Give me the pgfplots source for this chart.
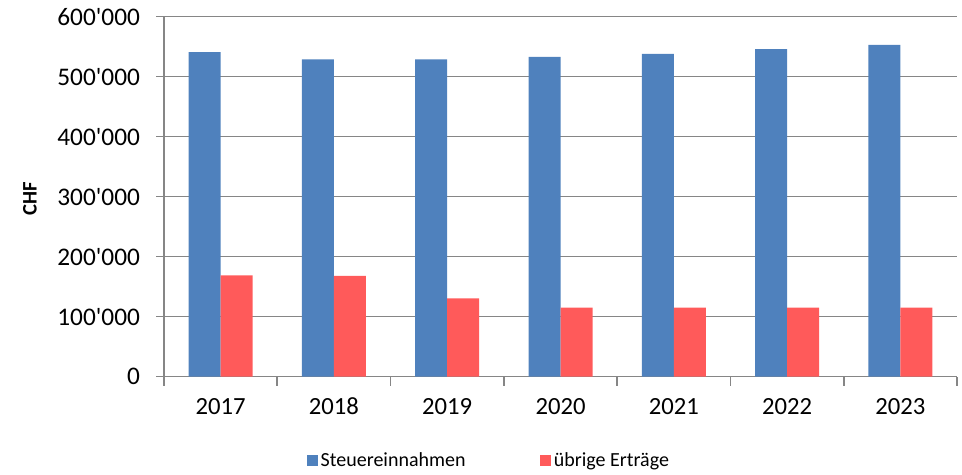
\documentclass[border=0pt]{standalone}
\usepackage{pgfplots}
\pgfplotsset{compat=1.18}
\usepackage{fontspec}
\setmainfont{Carlito}[Ligatures=TeXOff]
\definecolor{sblue}{HTML}{4F81BD}
\definecolor{sred}{HTML}{FF5A5A}
\definecolor{gridgray}{HTML}{868686}
\begin{document}
\begin{tikzpicture}
\path[use as bounding box] (-123pt,-73pt) rectangle (598.5pt,282.5pt);
\begin{axis}[
  at={(0,0)}, anchor=south west,
  scale only axis, width=594.75pt, height=270pt,
  ybar, bar width=24pt,
  xmin=-0.5, xmax=6.5, ymin=0, ymax=600000,
  scaled y ticks=false,
  xtick={0,1,2,3,4,5,6},
  xticklabels={2017,2018,2019,2020,2021,2022,2023},
  major x tick style={draw=none},
  minor xtick={-0.5,0.5,1.5,2.5,3.5,4.5,5.5,6.5},
  minor x tick style={draw=gridgray, line width=1.2pt},
  minor tick length=6.75pt,
  ytick={0,100000,200000,300000,400000,500000,600000},
  yticklabels={0,100'000,200'000,300'000,400'000,500'000,600'000},
  major y tick style={draw=gridgray, line width=1.2pt},
  major tick length=6pt,
  tick align=outside,
  ymajorgrids, grid style={gridgray, line width=1.2pt},
  axis x line*=bottom, axis y line*=left,
  axis line style={gridgray, line width=1.2pt, -},
  yticklabel style={font=\fontsize{19}{22}\selectfont, xshift=-8.5pt},
  xticklabel style={font=\fontsize{18.5}{22}\selectfont, text height=13pt, text depth=0pt, anchor=north, yshift=-6pt},
  ylabel={CHF},
  ylabel style={font=\fontsize{15.5}{17}\selectfont\bfseries, at={(axis description cs:-0.169,0.494)}, anchor=center},
  legend columns=2,
  legend style={draw=none, fill=none, font=\fontsize{15}{18}\selectfont,
    at={(axis description cs:0.175,-0.233)}, anchor=west,
    /tikz/every even column/.append style={column sep=54pt}},
  legend image code/.code={\fill[#1,draw=none] (0pt,-4.1pt) rectangle (8.25pt,4.1pt);},
]
\addplot[fill=sblue, draw=none, bar shift=-12pt] coordinates {(0,541000) (1,529000) (2,529000) (3,533000) (4,538000) (5,546000) (6,553000)};
\addplot[fill=sred, draw=none, bar shift=12pt] coordinates {(0,169000) (1,168000) (2,130500) (3,115000) (4,115000) (5,115000) (6,115000)};
\legend{Steuereinnahmen, übrige Erträge}
\end{axis}
\end{tikzpicture}
\end{document}
